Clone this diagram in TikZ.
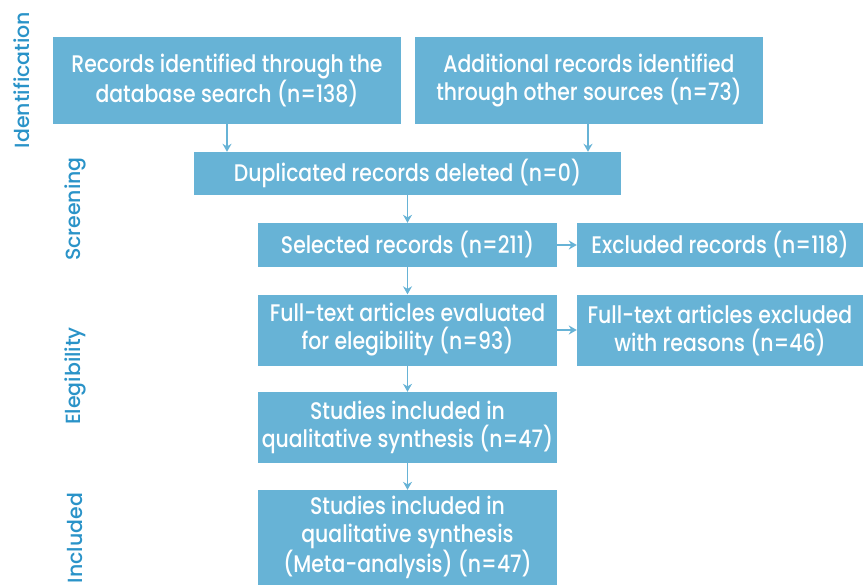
\documentclass[tikz,border=0pt]{standalone}
\usepackage{fontspec}
\setmainfont{Poppins}
\newfontfamily\boxfont{Poppins}[UprightFont={* Medium}, FakeStretch=0.85]
\newfontfamily\phasefont{Poppins}[UprightFont={* Medium}]
\usetikzlibrary{arrows.meta}
\definecolor{boxblue}{HTML}{67B3D6}
\definecolor{phaseblue}{HTML}{2A93C8}
\begin{document}
\begin{tikzpicture}[x=1pt,y=-1pt,
  box/.style={fill=boxblue, text=white, inner sep=0pt, align=center,
    font=\boxfont\fontsize{24}{28}\selectfont},
  flow/.style={draw=boxblue, line width=1.3pt, -{Stealth[length=8pt,width=9pt]}},
  phase/.style={text=phaseblue, rotate=90, inner sep=0pt, font=\phasefont\fontsize{20.5}{24}\selectfont}]
\useasboundingbox (0,0) rectangle (864,585);
% flow boxes
\node[box, minimum width=348pt, minimum height=87pt] (db) at (227,80.5)
  {Records identified through the\\database search (n=138)};
\node[box, minimum width=348pt, minimum height=87pt] (other) at (589,80.5)
  {Additional records identified\\through other sources (n=73)};
\node[box, minimum width=427pt, minimum height=43pt] (dup) at (407.5,173.5)
  {Duplicated records deleted (n=0)};
\node[box, minimum width=299pt, minimum height=44pt] (sel) at (407.5,245)
  {Selected records (n=211)};
\node[box, minimum width=286pt, minimum height=44pt] (excl) at (720,245)
  {Excluded records (n=118)};
\node[box, minimum width=299pt, minimum height=71pt] (full) at (407.5,330)
  {Full-text articles evaluated\\for elegibility (n=93)};
\node[box, minimum width=286pt, minimum height=71pt] (fullex) at (720,330)
  {Full-text articles excluded\\with reasons (n=46)};
\node[box, minimum width=299pt, minimum height=71pt] (qual) at (407.5,427.5)
  {Studies included in\\qualitative synthesis (n=47)};
\node[box, minimum width=299pt, minimum height=95pt] (meta) at (407.5,537.5)
  {Studies included in\\qualitative synthesis\\(Meta-analysis) (n=47)};
% phase labels
\node[phase] (pid) at (22,80) {Identification};
\node[phase] (pscr) at (75,209) {Screening};
\node[phase] (pel) at (75,376) {Elegibility};
\node[phase] (pinc) at (75,538) {Included};
% connectors
\draw[flow] (db.south) -- (db.south |- dup.north);
\draw[flow] ([xshift=-1pt]other.south) -- ([xshift=-1pt]other.south |- dup.north);
\draw[flow] (dup.south) -- (sel.north);
\draw[flow] (sel.south) -- (full.north);
\draw[flow] (full.south) -- (qual.north);
\draw[flow] (qual.south) -- (meta.north);
\draw[flow] (sel.east) -- (excl.west);
\draw[flow] (full.east) -- (fullex.west);
\end{tikzpicture}
\end{document}
